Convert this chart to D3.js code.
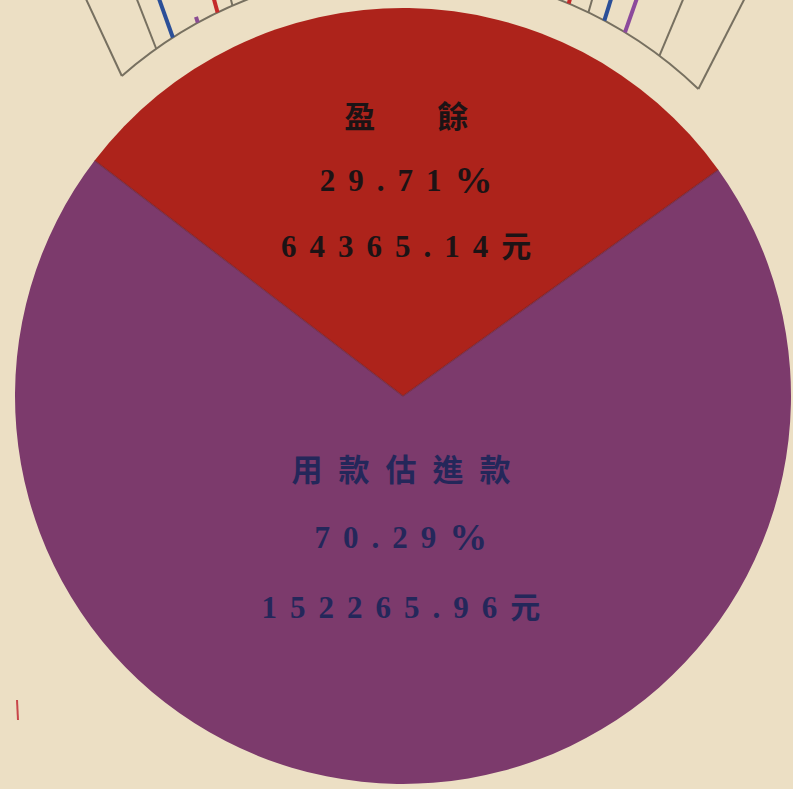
<!DOCTYPE html>
<html>
<head>
<meta charset="utf-8">
<script src="https://cdn.jsdelivr.net/npm/d3@7"></script>
<style>
  html, body { margin: 0; padding: 0; background: #ecdfc4; }
  svg { display: block; }
</style>
</head>
<body>
<script>
// Budget split: surplus vs. expenditure
const categories = ["盈餘", "用款估進款"];
const amounts = [64365.14, 152265.96];
const sliceColors = ["#ad231b", "#7c3a6c"];
const labelInk = ["#1c1315", "#24275a"];

// Outer ring (partial) — divider angles and coloured bars, degrees from top
const ringDividers = [-41.3, -35.4, -23.6, 25.8, 37.0, 43.9];
const ringBarAngles = [-32.7, -28.8, -25.8, 22.9, 28.2, 31.4];
const ringBarLengths = [200, 6, 200, 200, 200, 200];
const ringBarColors = ["#2b4f98", "#8a4c92", "#c42a2a", "#c42a2a", "#2b4f98", "#8c4a9c"];

const W = 793, H = 789;
const cx = 403, cy = 396, R = 388;
const ringR = 426;
const focus = { x: 400, y: 673 };

const svg = d3.select("body").append("svg")
  .attr("width", W).attr("height", H);

svg.append("rect").attr("width", W).attr("height", H).attr("fill", "#ecdfc4");

const deg = Math.PI / 180;
const total = d3.sum(amounts);
const rotation = 0.85 * deg;
const redSpan = amounts[0] / total * 2 * Math.PI;

const pie = d3.pie().sort(null).value(d => d)
  .startAngle(rotation - redSpan / 2)
  .endAngle(rotation - redSpan / 2 + 2 * Math.PI);
const arcs = pie(amounts);
const arc = d3.arc().innerRadius(0).outerRadius(R);

const g = svg.append("g").attr("transform", `translate(${cx},${cy})`);

g.selectAll("path.slice").data(arcs).join("path")
  .attr("class", "slice")
  .attr("d", arc)
  .attr("fill", (d, i) => sliceColors[i]);

// Darker seam along the two radii
arcs.forEach(d => {
  [d.startAngle].forEach(a => {
    g.append("line")
      .attr("x1", 0).attr("y1", 0)
      .attr("x2", Math.sin(a) * R).attr("y2", -Math.cos(a) * R)
      .attr("stroke", "#6a1c2a").attr("stroke-opacity", 0.6).attr("stroke-width", 1.3);
  });
});

// Partial outer ring
const ring = svg.append("g");
const polar = a => ({ x: cx + ringR * Math.sin(a * deg), y: cy - ringR * Math.cos(a * deg) });
const rayEnd = (a, len) => {
  const b = polar(a);
  const dx = b.x - focus.x, dy = b.y - focus.y;
  const n = Math.hypot(dx, dy);
  return { x1: b.x, y1: b.y, x2: b.x + dx / n * len, y2: b.y + dy / n * len };
};
const ringArc = d3.arc().innerRadius(ringR).outerRadius(ringR)
  .startAngle(d3.min(ringDividers) * deg).endAngle(d3.max(ringDividers) * deg);
ring.append("path")
  .attr("transform", `translate(${cx},${cy})`)
  .attr("d", ringArc())
  .attr("fill", "none").attr("stroke", "#777060").attr("stroke-width", 2);

ring.selectAll("line.div").data(ringDividers).join("line")
  .attr("class", "div")
  .each(function (a) {
    const p = rayEnd(a, 200);
    d3.select(this).attr("x1", p.x1).attr("y1", p.y1).attr("x2", p.x2).attr("y2", p.y2);
  })
  .attr("stroke", "#777060").attr("stroke-width", 2);

ring.selectAll("line.bar").data(ringBarAngles).join("line")
  .attr("class", "bar")
  .each(function (a, i) {
    const p = rayEnd(a, ringBarLengths[i]);
    d3.select(this).attr("x1", p.x1).attr("y1", p.y1).attr("x2", p.x2).attr("y2", p.y2);
  })
  .attr("stroke", (d, i) => ringBarColors[i])
  .attr("stroke-width", 4);

// Small red tick at lower left
svg.append("line")
  .attr("x1", 17).attr("y1", 700).attr("x2", 18).attr("y2", 720)
  .attr("stroke", "#c8464a").attr("stroke-width", 2);

// Slice labels
const pct = d3.format(".2f");
const labelDist = [0.557, 0.363];
const lineGap = [66, 70];
const titleSpacing = ["62px", "16px"];
const serif = "'Liberation Serif', 'Noto Sans CJK TC', serif";

arcs.forEach((d, i) => {
  const mid = (d.startAngle + d.endAngle) / 2;
  const r = R * labelDist[i];
  const x = Math.sin(mid) * r;
  const y = -Math.cos(mid) * r;
  const lines = [
    { parts: [[categories[i], 31]], font: "'Noto Sans CJK TC', sans-serif", ls: titleSpacing[i] },
    { parts: [[pct(d.value / total * 100), 31], ["%", 38]], font: serif, ls: "13px" },
    { parts: [[pct(d.value), 31], ["元", 30]], font: serif, ls: "13px" }
  ];
  lines.forEach((ln, k) => {
    const spacing = parseFloat(ln.ls);
    const t = g.append("text")
      .attr("x", x + spacing / 2)
      .attr("y", y + (k - 1) * lineGap[i])
      .attr("text-anchor", "middle")
      .attr("dominant-baseline", "central")
      .attr("font-family", ln.font)
      .attr("font-weight", 700)
      .attr("letter-spacing", ln.ls)
      .attr("fill", labelInk[i]);
    ln.parts.forEach(([s, size]) => {
      t.append("tspan").attr("font-size", size).text(s);
    });
  });
});
</script>
</body>
</html>
